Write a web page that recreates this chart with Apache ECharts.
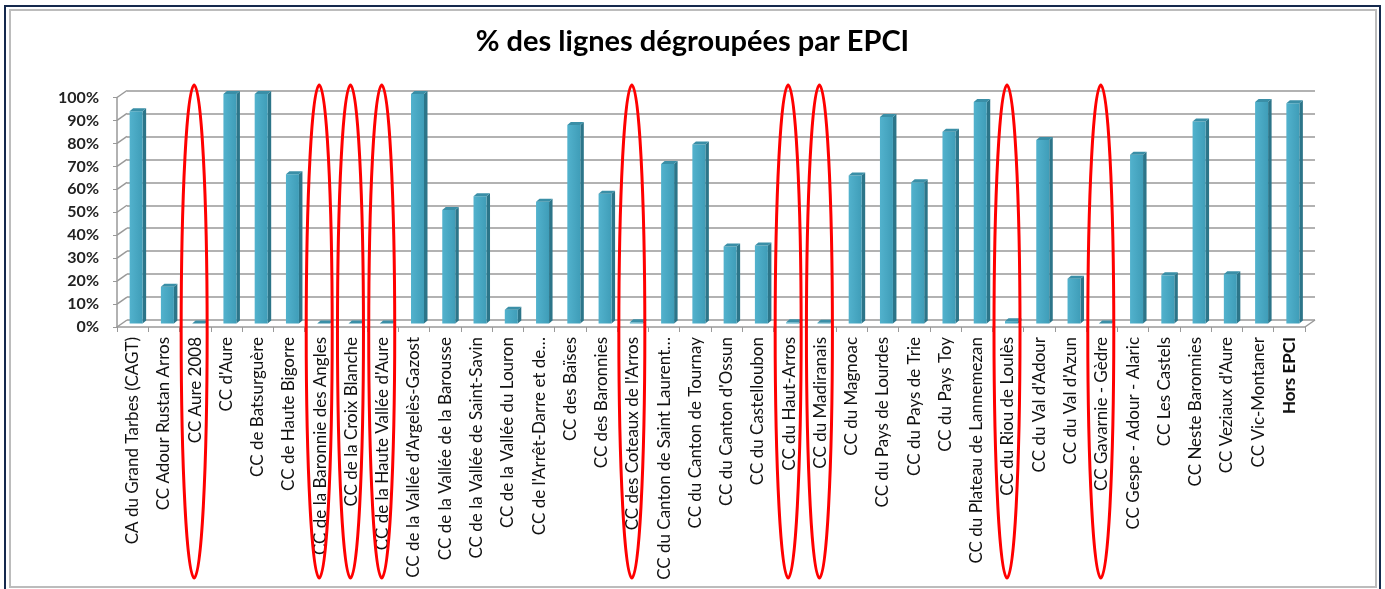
<!DOCTYPE html>
<html lang="fr">
<head>
<meta charset="utf-8">
<title>% des lignes dégroupées par EPCI</title>
<script src="https://cdn.jsdelivr.net/npm/echarts@6/dist/echarts.min.js"></script>
<style>
	html, body { margin: 0; padding: 0; background: #fff; overflow: hidden; }
	.cadre { position: absolute; left: 4px; top: 5px; width: 1373px; height: 700px; border: 2px solid #15294d; }
	.cadre2 { position: absolute; left: 9px; top: 9px; width: 1364px; height: 575px; border: 2px solid #bcbcbc; }
	#chart { position: absolute; left: 0; top: 0; width: 1385px; height: 589px; }
</style>
</head>
<body>
<div class="cadre"></div>
<div class="cadre2"></div>
<div id="chart"></div>
<script>
	// données
	var categories = [
		"CA du Grand Tarbes (CAGT)", "CC Adour Rustan Arros", "CC Aure 2008", "CC d'Aure",
		"CC de Batsurguère", "CC de Haute Bigorre", "CC de la Baronnie des Angles", "CC de la Croix Blanche",
		"CC de la Haute Vallée d'Aure", "CC de la Vallée d'Argelès-Gazost", "CC de la Vallée de la Barousse",
		"CC de la Vallée de Saint-Savin", "CC de la Vallée du Louron", "CC de l'Arrêt-Darre et de…",
		"CC des Baïses", "CC des Baronnies", "CC des Coteaux de l'Arros", "CC du Canton de Saint Laurent…",
		"CC du Canton de Tournay", "CC du Canton d'Ossun", "CC du Castelloubon", "CC du Haut-Arros",
		"CC du Madiranais", "CC du Magnoac", "CC du Pays de Lourdes", "CC du Pays de Trie", "CC du Pays Toy",
		"CC du Plateau de Lannemezan", "CC du Riou de Loulès", "CC du Val d'Adour", "CC du Val d'Azun",
		"CC Gavarnie - Gèdre", "CC Gespe - Adour - Alaric", "CC Les Castels", "CC Neste Baronnies",
		"CC Veziaux d'Aure", "CC Vic-Montaner", "Hors EPCI"
	];
	var pctDegroupe = [
		92.5, 16, 0, 100,
		100, 65, 0, 0,
		0, 100, 49.5,
		55.5, 6, 53,
		86.5, 56.5, 0.5, 69.5,
		78, 33.5, 34, 0.5,
		0.3, 64.5, 90, 61.5, 83.5,
		96.5, 1, 80, 19.5,
		0, 73.5, 21, 88,
		21.5, 96.5, 96
	];
	var yTicks = [0, 10, 20, 30, 40, 50, 60, 70, 80, 90, 100];
	// EPCI entourés en rouge
	var circled = [
		"CC Aure 2008", "CC de la Baronnie des Angles", "CC de la Croix Blanche", "CC de la Haute Vallée d'Aure",
		"CC des Coteaux de l'Arros", "CC du Haut-Arros", "CC du Madiranais", "CC du Riou de Loulès", "CC Gavarnie - Gèdre"
	];

	var FONT = 'Lato, "Liberation Sans", sans-serif';
	// profondeur de l'effet 3D
	var DX = 10, DY = -7;
	var FRONT = { left: 117, top: 97.5, width: 1188, height: 229.5 };
	var BAR_W = 13, BAR_SX = 3.5, BAR_SY = -3.5, SIDE_X = 3.5, SIDE_Y = -3;

	var myChart = echarts.init(document.getElementById('chart'));

	var barData = pctDegroupe.map(function(v, i) { return [i, v]; });
	var ellipseData = circled.map(function(n) { return [categories.indexOf(n), 0]; });
	var wallData = yTicks.map(function(v) { return [0, v]; });

	var frontFill = new echarts.graphic.LinearGradient(0, 0, 1, 0, [
		{ offset: 0, color: '#52b2cd' },
		{ offset: 1, color: '#3f9db8' }
	]);

	function renderBar(params, api) {
		var i = api.value(0), v = api.value(1);
		var top = api.coord([i, v]), base = api.coord([i, 0]);
		var x0 = top[0] + BAR_SX - BAR_W / 2, x1 = x0 + BAR_W;
		var yt = top[1] + BAR_SY, yb = base[1] + BAR_SY;
		return {
			type: 'group',
			children: [{
				type: 'polygon',
				shape: { points: [[x1, yt], [x1 + SIDE_X, yt + SIDE_Y], [x1 + SIDE_X, yb + SIDE_Y], [x1, yb]] },
				style: { fill: '#2c7589' }
			}, {
				type: 'rect',
				shape: { x: x0, y: yt, width: BAR_W, height: yb - yt },
				style: { fill: frontFill }
			}, {
				type: 'polygon',
				shape: { points: [[x0, yt], [x1, yt], [x1 + SIDE_X, yt + SIDE_Y], [x0 + SIDE_X, yt + SIDE_Y]] },
				style: { fill: '#3a8fa7' }
			}]
		};
	}

	function renderWall(params, api) {
		var v = api.value(1);
		var p = api.coord([0, v]);
		var bw = api.size([1, 0])[0];
		var left = p[0] - bw / 2;
		var kids = [{
			type: 'line',
			shape: { x1: left, y1: p[1], x2: left + DX, y2: p[1] + DY },
			style: { stroke: '#999', lineWidth: 1.5 }
		}];
		if (v === 0) {
			var right = api.coord([categories.length - 1, 0])[0] + bw / 2;
			kids.push({
				type: 'line',
				shape: { x1: right, y1: p[1], x2: right + DX, y2: p[1] + DY },
				style: { stroke: '#999', lineWidth: 1.5 }
			});
		}
		return { type: 'group', children: kids };
	}

	function renderEllipse(params, api) {
		var i = api.value(0);
		var top = api.coord([i, 100]), base = api.coord([i, 0]);
		var y1 = top[1] - 12.5, y2 = base[1] + 251;
		return {
			type: 'ellipse',
			shape: { cx: top[0] - 1, cy: (y1 + y2) / 2, rx: 13, ry: (y2 - y1) / 2 },
			style: { fill: 'none', stroke: '#ff0000', lineWidth: 3 }
		};
	}

	var option = {
		animation: false,
		backgroundColor: 'transparent',
		title: {
			text: '% des lignes dégroupées par EPCI',
			left: 'center',
			top: 27,
			padding: 0,
			textStyle: { fontFamily: FONT, fontSize: 29, fontWeight: 'bold', color: '#000' }
		},
		grid: [{
			left: FRONT.left, top: FRONT.top, width: FRONT.width, height: FRONT.height
		}, {
			left: FRONT.left + DX, top: FRONT.top + DY, width: FRONT.width, height: FRONT.height
		}],
		xAxis: [{
			type: 'category',
			gridIndex: 0,
			data: categories,
			axisLine: { show: true, lineStyle: { color: '#999', width: 1.5 } },
			axisTick: { show: true, length: 5, lineStyle: { color: '#999' } },
			axisLabel: {
				interval: 0,
				rotate: 90,
				margin: 10,
				fontFamily: FONT,
				fontSize: 17,
				color: '#111',
				formatter: function(v) { return v === 'Hors EPCI' ? '{b|' + v + '}' : v; },
				rich: { b: { fontFamily: FONT, fontSize: 17, fontWeight: 'bold', color: '#111' } }
			}
		}, {
			type: 'category',
			gridIndex: 1,
			data: categories,
			show: false
		}],
		yAxis: [{
			type: 'value',
			gridIndex: 0,
			min: 0,
			max: 100,
			interval: 10,
			axisLine: { show: true, lineStyle: { color: '#999', width: 1.5 } },
			axisTick: { show: true, length: 4, lineStyle: { color: '#999' } },
			splitLine: { show: false },
			axisLabel: {
				margin: 18,
				formatter: '{value}%',
				fontFamily: FONT,
				fontSize: 16,
				fontWeight: 'bold',
				color: '#222'
			}
		}, {
			type: 'value',
			gridIndex: 1,
			min: 0,
			max: 100,
			interval: 10,
			axisLine: { show: false },
			axisTick: { show: false },
			axisLabel: { show: false },
			splitLine: { show: true, lineStyle: { color: '#999', width: 1.5 } }
		}],
		series: [{
			name: 'murs',
			type: 'custom',
			xAxisIndex: 0,
			yAxisIndex: 0,
			renderItem: renderWall,
			data: wallData,
			silent: true,
			z: 1
		}, {
			name: '% dégroupé',
			type: 'custom',
			xAxisIndex: 0,
			yAxisIndex: 0,
			renderItem: renderBar,
			data: barData,
			encode: { x: 0, y: 1 },
			clip: false,
			z: 3
		}, {
			name: 'entourés',
			type: 'custom',
			xAxisIndex: 0,
			yAxisIndex: 0,
			renderItem: renderEllipse,
			data: ellipseData,
			clip: false,
			silent: true,
			z: 10
		}]
	};
	myChart.setOption(option);
</script>
</body>
</html>
